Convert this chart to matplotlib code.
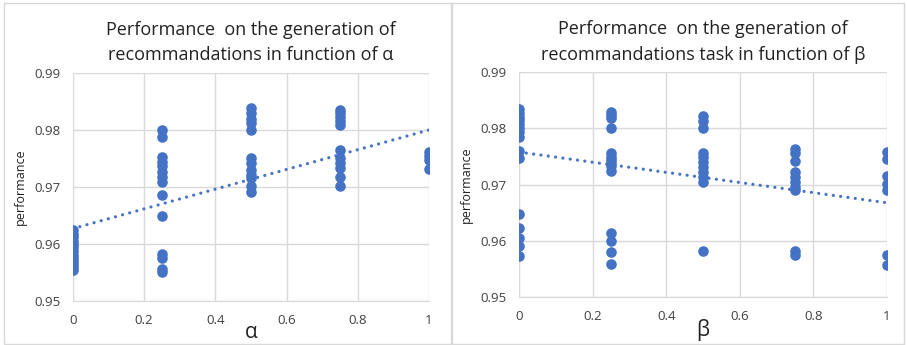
import numpy as np
import matplotlib
matplotlib.use("Agg")
import matplotlib.pyplot as plt
from matplotlib.patches import Rectangle

# parameter levels tested
levels = [0, 0.25, 0.5, 0.75, 1]

# performance readings per alpha level
alpha_perf = [
    [0.9625, 0.9618, 0.9612, 0.9605, 0.9600, 0.9595, 0.9588, 0.9580, 0.9575, 0.9570, 0.9565, 0.9560, 0.9555],
    [0.9800, 0.9788, 0.9753, 0.9744, 0.9736, 0.9727, 0.9718, 0.9709, 0.9686, 0.9649, 0.9582, 0.9575, 0.9557, 0.9551],
    [0.9838, 0.9829, 0.9820, 0.9812, 0.9800, 0.9750, 0.9742, 0.9730, 0.9721, 0.9715, 0.9701, 0.9692],
    [0.9835, 0.9829, 0.9823, 0.9815, 0.9809, 0.9765, 0.9750, 0.9742, 0.9733, 0.9717, 0.9701],
    [0.9762, 0.9754, 0.9747, 0.9732],
]

# performance readings per beta level
beta_perf = [
    [0.9835, 0.9828, 0.9821, 0.9814, 0.9807, 0.9800, 0.9793, 0.9785, 0.9759, 0.9747, 0.9648, 0.9623, 0.9605, 0.9592, 0.9573],
    [0.9829, 0.9823, 0.9818, 0.9800, 0.9756, 0.9750, 0.9744, 0.9739, 0.9733, 0.9724, 0.9614, 0.9600, 0.9580, 0.9560],
    [0.9822, 0.9813, 0.9801, 0.9757, 0.9749, 0.9740, 0.9731, 0.9722, 0.9713, 0.9705, 0.9582],
    [0.9763, 0.9757, 0.9743, 0.9722, 0.9713, 0.9705, 0.9696, 0.9690, 0.9582, 0.9576],
    [0.9758, 0.9746, 0.9716, 0.9702, 0.9690, 0.9576, 0.9557],
]

# linear trendlines as shown in the chart (value at 0, value at 1);
# the original fit includes overlapping points that can't be read off
alpha_trend = [0.9627, 0.9800]
beta_trend = [0.9758, 0.9668]

xticks = [0, 0.2, 0.4, 0.6, 0.8, 1]
yticks = [0.95, 0.96, 0.97, 0.98, 0.99]

blue = "#4472C4"
grid_col = "#D9D9D9"
text_col = "#404040"

plt.rcParams["font.family"] = ["Open Sans", "DejaVu Sans"]

fig = plt.figure(figsize=(9.07, 3.45), dpi=100)

# panel frames like the spreadsheet chart boxes
for x0, w in [(0.004, 0.494), (0.497, 0.5)]:
    fig.patches.append(Rectangle((x0, 0.003), w, 0.988, transform=fig.transFigure,
                                 fill=False, edgecolor=grid_col, linewidth=1.0))


def panel(rect, perf, trend, title, xlabel):
    ax = fig.add_axes(rect)
    xs = np.concatenate([[lv] * len(p) for lv, p in zip(levels, perf)])
    ys = np.concatenate(perf)
    ax.scatter(xs, ys, s=58, color=blue, zorder=3, linewidths=0)

    # dotted trendline
    ax.plot([0, 1], trend, color=blue, linestyle=(0, (0.01, 2.3)), linewidth=2.3,
            dash_capstyle="round", zorder=2)

    ax.set_xlim(0, 1)
    ax.set_ylim(0.95, 0.99)
    ax.set_xticks(xticks)
    ax.set_xticklabels(["0", "0.2", "0.4", "0.6", "0.8", "1"])
    ax.set_yticks(yticks)
    ax.set_yticklabels([f"{t:.2f}" for t in yticks])
    ax.grid(True, color=grid_col, linewidth=1.0)
    ax.set_axisbelow(True)
    for s in ["top", "right", "left"]:
        ax.spines[s].set_visible(False)
    ax.spines["bottom"].set_color(grid_col)
    ax.tick_params(length=0, labelsize=9.5, colors=text_col, pad=9)
    ax.set_ylabel("performance", fontsize=9, color="#222222", labelpad=5)
    ax.set_xlabel(xlabel, fontsize=15, color="#222222", labelpad=-3)
    ax.set_title(title, fontsize=13, color="#222222", pad=9, linespacing=1.55)
    return ax


panel([0.0802, 0.1275, 0.3928, 0.661], alpha_perf, alpha_trend,
      "Performance  on the generation of\nrecommandations in function of \u03b1", "\u03b1")
panel([0.5722, 0.1377, 0.4057, 0.6536], beta_perf, beta_trend,
      "Performance  on the generation of\nrecommandations task in function of \u03b2", "\u03b2")

fig.savefig("out.png", dpi=100)
